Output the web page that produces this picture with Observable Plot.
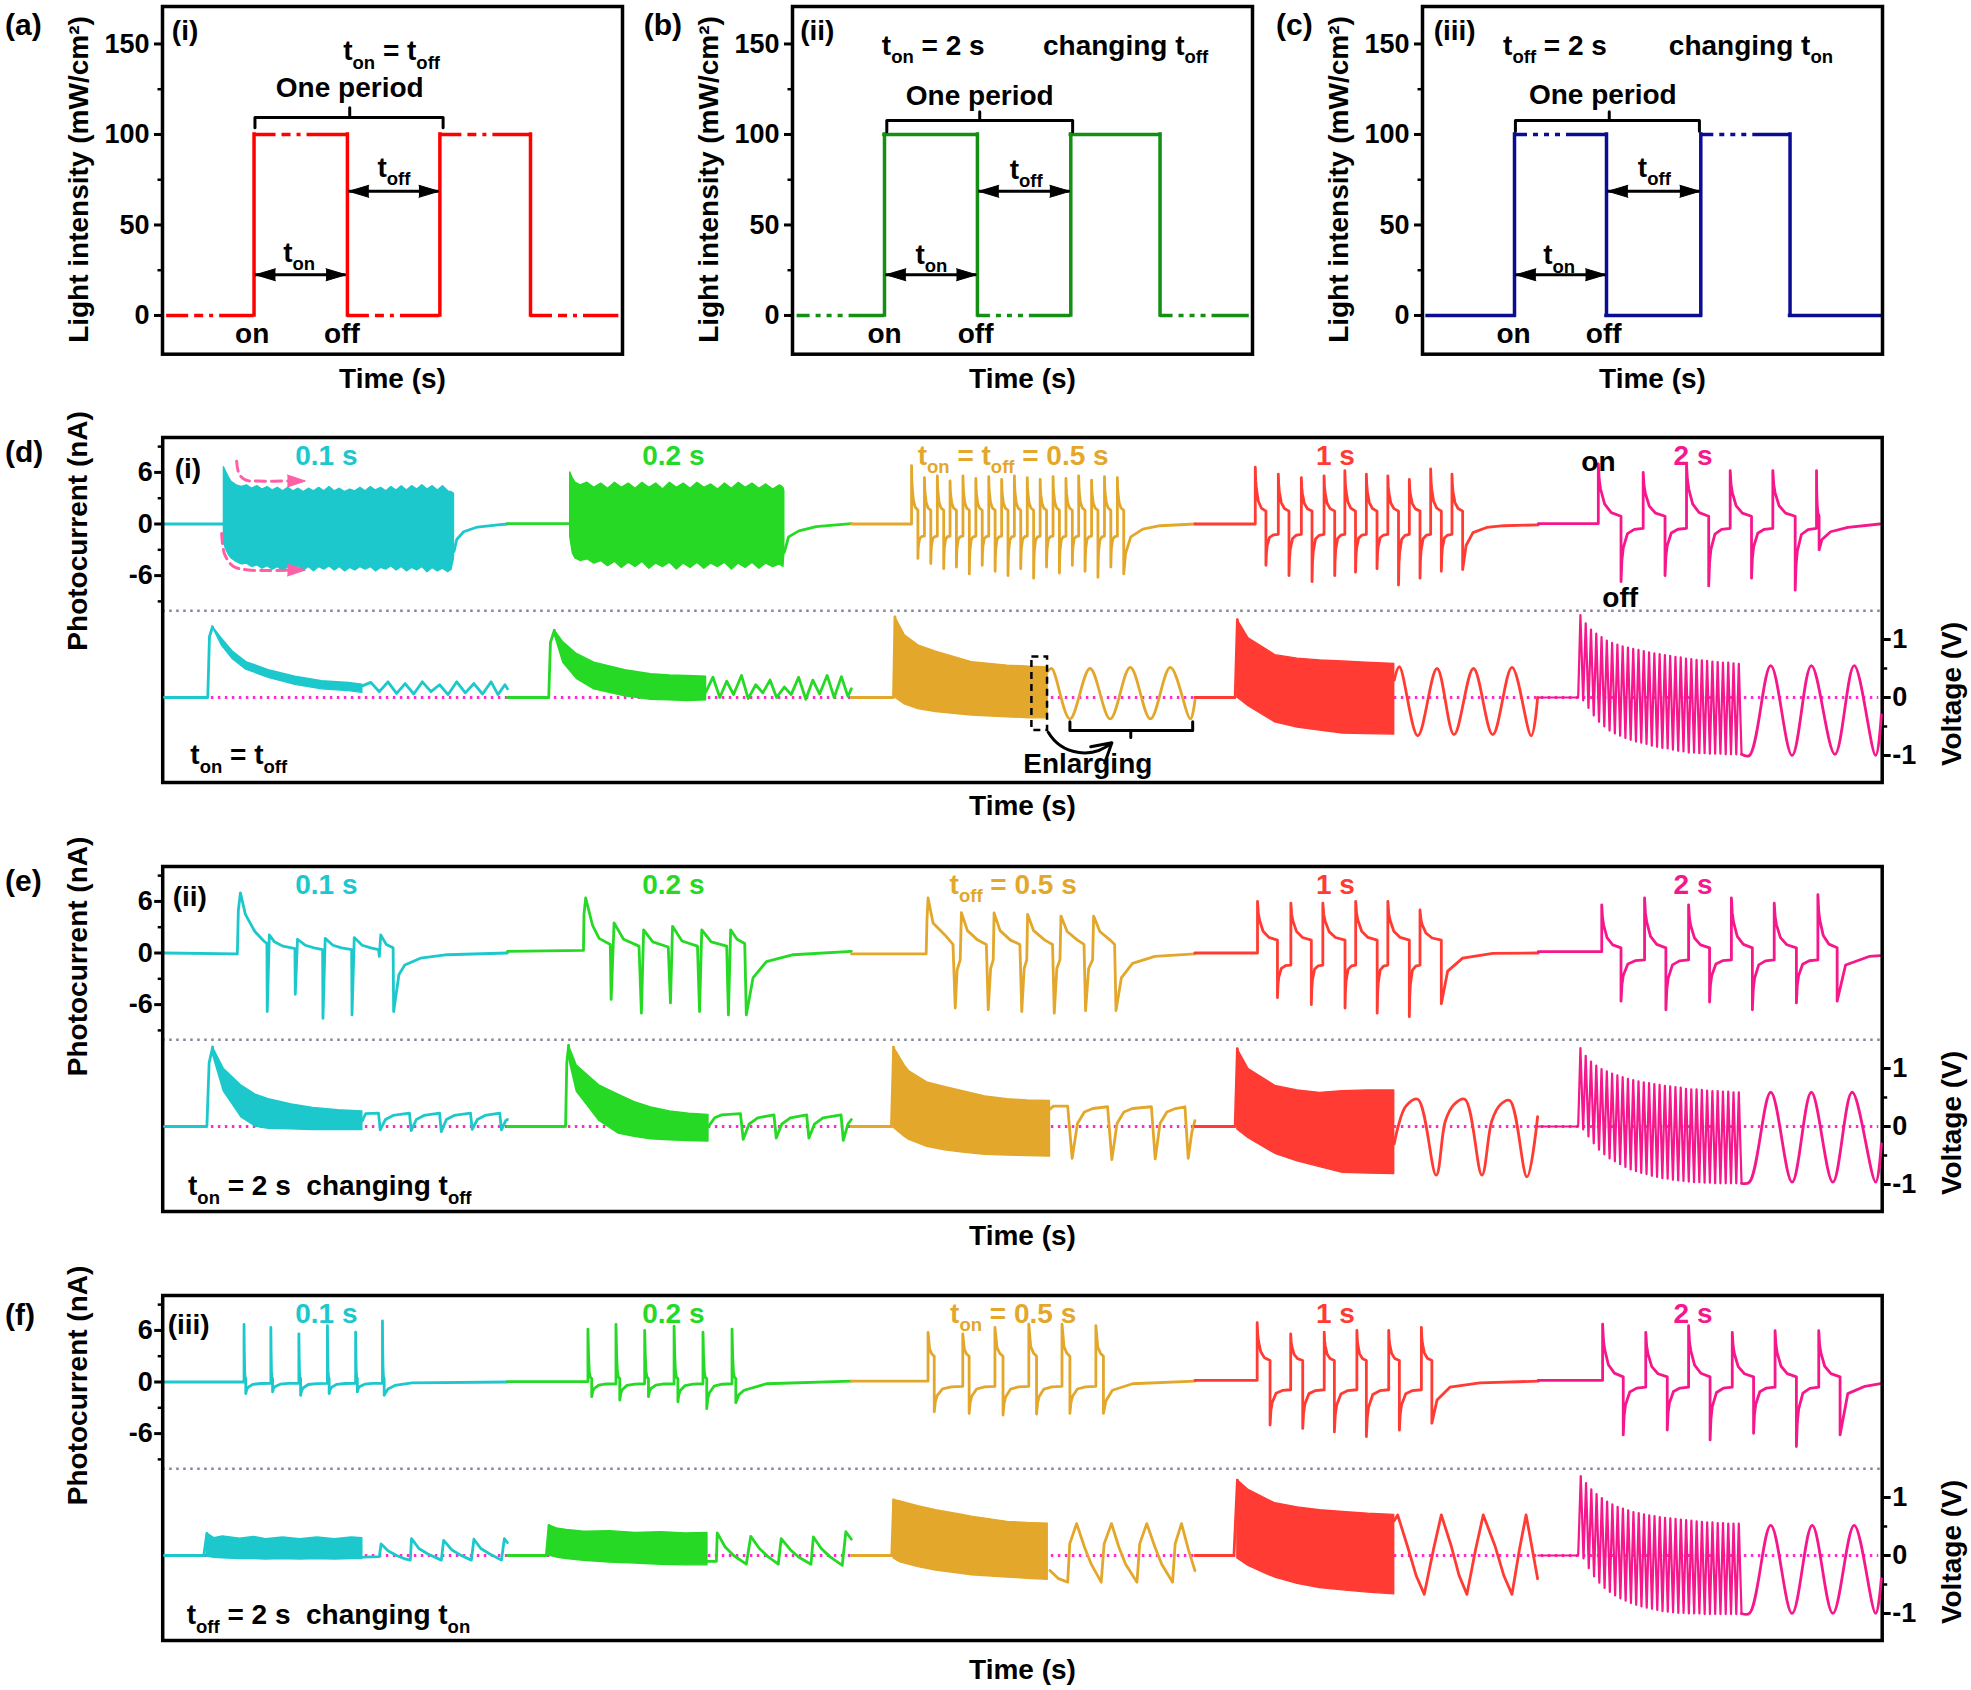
<!DOCTYPE html>
<html><head><meta charset="utf-8">
<script src="https://cdn.jsdelivr.net/npm/d3@7"></script>
<script src="https://cdn.jsdelivr.net/npm/@observablehq/plot@0.6"></script>
<style>
html,body{margin:0;padding:0;background:#fff;}
body{width:1971px;height:1690px;position:relative;overflow:hidden;}
</style></head><body>
<script>
// ================= DATA =================
const COLORS = {cyan:"#1cc8cc", green:"#25d925", orange:"#e3a72b", red:"#ff3b33", pink:"#f5178b"};
const segColors = [COLORS.cyan, COLORS.green, COLORS.orange, COLORS.red, COLORS.pink];
const segLabelX = [9.52, 29.7, 49.46, 68.2, 89.0];
const segLabelsD = ["0.1 s", "0.2 s", "t_{on} = t_{off} = 0.5 s", "1 s", "2 s"];
const segLabelsE = ["0.1 s", "0.2 s", "t_{off} = 0.5 s", "1 s", "2 s"];
const segLabelsF = ["0.1 s", "0.2 s", "t_{on} = 0.5 s", "1 s", "2 s"];

// ---- top panels (light intensity square waves) ----
const lightLevels = [0, 100];
const intensityTicks = [0, 50, 100, 150];
const intensityMinor = [25, 75, 125];
const edgesA = [0.09, 1.99, 4.02, 6.03, 8.0, 9.92];
const edgesB = [0.1, 2.0, 4.02, 6.05, 7.99, 9.93];
const edgesC = [0.11, 2.0, 4.0, 6.05, 7.99, 9.96];

// ---- bottom panels ticks ----
const currentTicks = [-6, 0, 6];
const currentMinor = [-9, -3, 3, 9];
const voltageTicks = [-1, 0, 1];
const voltageMinor = [-0.5, 0.5];
const separatorLevel = -10.09;

// shape templates read from the spikes: [fraction of interval, fraction of amplitude]
const decayShape = [[0.04,0.7],[0.1,0.52],[0.28,0.23],[0.57,0.07]];
const recovShape = [[0.04,0.6],[0.1,0.37],[0.29,0.1],[0.6,0.02]];
const shoulderShape = [[0.25,0.3],[0.6,0.1]];
const narrowShape = [[0.15,0.5],[0.35,0.15],[0.6,0.03]];

// ================= panel (d) =================
const dI_cyanPre = [[0.1,0],[3.56,0]];
const dI_cyanBand = [[3.56,6.6,-2.2],[3.7,6.0,-3.0],[3.85,5.4,-3.6],[4.0,4.9,-4.0],[4.3,4.5,-4.4],[4.6,4.3,-4.7],[4.9,4.5,-4.6],[5.2,4.1,-5.0],[5.5,4.4,-4.8],[5.8,4.0,-5.2],[6.1,4.3,-4.9],[6.4,3.9,-5.3],[6.7,4.2,-5.0],[7.0,3.8,-5.5],[7.3,4.2,-5.0],[7.6,3.8,-5.3],[7.9,4.1,-4.9],[8.2,3.7,-5.4],[8.5,4.1,-5.0],[8.8,3.8,-5.5],[9.1,4.2,-5.0],[9.4,3.8,-5.3],[9.7,4.3,-4.9],[10.0,3.8,-5.4],[10.3,4.1,-5.0],[10.6,3.7,-5.5],[10.9,4.0,-5.1],[11.2,3.8,-5.4],[11.5,4.2,-5.0],[11.8,3.8,-5.3],[12.1,4.3,-5.0],[12.4,3.9,-5.5],[12.7,4.2,-5.1],[13.0,3.8,-5.3],[13.3,4.3,-4.9],[13.6,3.9,-5.4],[13.9,4.4,-5.0],[14.2,3.9,-5.5],[14.5,4.4,-5.1],[14.8,4.0,-5.4],[15.1,4.5,-5.0],[15.4,4.0,-5.6],[15.7,4.4,-5.1],[16.0,3.9,-5.5],[16.3,4.4,-5.2],[16.6,3.8,-5.6],[16.8,3.7,-5.3],[16.94,3.5,-4.0]];
const dI_cyanPost = [[16.94,-3.2],[17.1,-1.8],[17.5,-0.9],[18.3,-0.35],[19.5,-0.1],[20.05,0]];
const dI_greenPre = [[20.05,0.05],[23.7,0.05]];
const dI_greenBand = [[23.7,6.0,-1.5],[23.85,5.3,-3.4],[24.0,4.8,-4.0],[24.3,4.5,-4.3],[24.7,4.8,-4.1],[25.1,4.2,-4.6],[25.5,4.7,-4.3],[25.9,4.1,-4.9],[26.3,4.8,-4.4],[26.7,4.2,-5.1],[27.1,4.7,-4.5],[27.5,4.1,-5.0],[27.9,4.8,-4.4],[28.3,4.2,-5.2],[28.7,4.7,-4.6],[29.1,4.0,-5.0],[29.5,4.8,-4.5],[29.9,4.2,-5.3],[30.3,4.7,-4.6],[30.7,4.1,-5.1],[31.1,4.8,-4.5],[31.5,4.2,-5.2],[31.9,4.6,-4.6],[32.3,4.0,-5.0],[32.7,4.7,-4.5],[33.1,4.1,-5.3],[33.5,4.8,-4.6],[33.9,4.2,-5.1],[34.3,4.7,-4.5],[34.7,4.1,-5.2],[35.1,4.6,-4.6],[35.5,4.0,-5.0],[35.9,4.5,-4.7],[36.1,4.2,-5.0],[36.15,3.8,-3.6]];
const dI_greenPost = [[36.15,-3.3],[36.4,-1.5],[37.0,-0.8],[38.0,-0.3],[40.05,0.05]];
const dI_orange = {start:[40.05,0],
  on:[43.55,44.30,45.05,45.79,46.54,47.29,48.04,48.79,49.53,50.28,51.03,51.78,52.53,53.27,54.02,54.77,55.52],
  off:[43.92,44.67,45.42,46.16,46.91,47.66,48.41,49.16,49.90,50.65,51.40,52.15,52.90,53.64,54.39,55.14,55.89],
  peak:[6.8,5.4,5.6,5.0,5.6,5.3,5.5,5.2,5.6,5.4,5.2,5.5,5.3,5.6,5.1,5.5,5.4],
  trough:[-4.0,-4.6,-5.2,-5.0,-5.8,-4.8,-5.5,-6.0,-5.2,-6.3,-5.0,-5.7,-4.8,-5.5,-6.2,-5.0,-5.8],
  plat:1.6, rec:-1.4, decay:decayShape, recov:recovShape,
  tail:[[56.0,-3.4],[56.3,-1.5],[57.0,-0.6],[58.0,-0.2],[60.03,0.0]]};
const dI_red = {start:[60.03,0],
  on:[63.54,64.88,66.22,67.54,68.75,70.0,71.25,72.5,73.74,74.98],
  off:[64.16,65.5,66.84,68.16,69.37,70.62,71.87,73.12,74.36,75.6],
  peak:[6.6,5.8,5.4,5.6,6.2,5.8,5.6,5.2,6.4,5.8],
  trough:[-4.8,-6.0,-6.7,-6.0,-5.6,-5.2,-7.1,-6.3,-5.5,-5.3],
  plat:1.5, rec:-1.2, decay:decayShape, recov:recovShape,
  tail:[[75.8,-2.5],[76.2,-1.0],[77.0,-0.4],[78.0,-0.2],[80.0,-0.1]]};
const dI_pink = {start:[80.0,0.05],
  on:[83.49,86.1,88.62,91.16,93.64,96.18],
  off:[84.81,87.37,89.91,92.4,94.94,96.33],
  peak:[7.0,6.0,7.0,6.2,6.2,6.2],
  trough:[-6.7,-6.0,-7.2,-6.3,-7.7,-3.0],
  plat:0.9, rec:-0.5, decay:decayShape, recov:recovShape,
  tail:[[96.5,-1.8],[97.0,-0.9],[98.0,-0.4],[99.86,0.0]]};
const dPinkArrowUp = [[4.3,7.3],[4.45,5.8],[4.85,5.1],[5.5,5.0],[7.6,5.0]];
const dPinkArrowLow = [[3.43,-1.1],[3.6,-3.5],[4.1,-4.9],[5.0,-5.35],[7.6,-5.35]];
const dPinkArrowHeads = [{x:8.3,y:5.0},{x:8.3,y:-5.35}];
const dOnOffText = [{x:83.5,y:7.25,t:"on"},{x:84.76,y:-8.57,t:"off"}];

const dV_cyanPre = [[0.1,0],[2.62,0],[2.72,1.05],[2.9,1.22]];
const dV_cyanBand = [[2.9,1.22,1.22],[3.43,1.02,0.9],[4.08,0.79,0.66],[4.86,0.61,0.48],[6.16,0.47,0.34],[7.71,0.36,0.22],[9.27,0.28,0.14],[10.83,0.25,0.11],[11.61,0.22,0.08]];
const dV_cyanEnl = [[11.61,0.2],[12.1,0.26],[12.6,0.1],[13.1,0.27],[13.6,0.07],[14.1,0.24],[14.6,0.06],[15.1,0.27],[15.6,0.1],[16.1,0.22],[16.6,0.05],[17.1,0.27],[17.6,0.08],[18.1,0.24],[18.6,0.06],[19.1,0.27],[19.5,0.05],[19.9,0.22],[20.05,0.15]];
const dV_greenPre = [[20.05,0],[22.45,0],[22.55,0.95],[22.78,1.16]];
const dV_greenBand = [[22.78,1.16,1.1],[23.3,0.95,0.6],[24.08,0.75,0.32],[25.1,0.6,0.14],[26.9,0.47,0.02],[28.4,0.4,-0.04],[29.5,0.38,-0.05],[30.5,0.37,-0.06],[31.6,0.36,-0.05]];
const dV_greenEnl = [[31.6,0.1],[32.0,0.35],[32.4,0.0],[32.8,0.28],[33.2,0.05],[33.66,0.38],[34.05,-0.02],[34.49,0.22],[34.9,0.08],[35.32,0.3],[35.7,0.0],[36.15,0.18],[36.55,0.05],[36.98,0.35],[37.4,-0.03],[37.81,0.3],[38.2,0.06],[38.64,0.38],[39.05,0.0],[39.47,0.36],[39.85,0.02],[40.05,0.15]];
const dV_orangePre = [[40.05,0],[42.5,0],[42.59,1.39]];
const dV_orangeBand = [[42.59,1.39,0.0],[43.16,1.07,-0.12],[43.94,0.9,-0.2],[44.97,0.79,-0.25],[47.05,0.61,-0.31],[49.13,0.55,-0.34],[50.43,0.53,-0.36],[51.47,0.52,-0.36]];
const dV_orangeEnl = [[51.47,0.45],[51.7,0.5],[52.76,-0.37],[53.93,0.5],[55.1,-0.37],[56.27,0.52],[57.44,-0.37],[58.6,0.52],[59.77,-0.37],[60.03,-0.05]];
const dV_redPre = [[60.03,0],[62.37,0],[62.5,1.34]];
const dV_redBand = [[62.5,1.34,0.0],[63.15,1.02,-0.15],[64.7,0.73,-0.43],[66.0,0.67,-0.52],[67.3,0.64,-0.57],[68.64,0.62,-0.62],[70.0,0.6,-0.63],[71.62,0.58,-0.64]];
const dV_redEnl = [[71.62,0.3],[71.92,0.53],[72.99,-0.66],[74.11,0.5],[75.1,-0.64],[76.23,0.5],[77.35,-0.64],[78.47,0.52],[79.59,-0.66],[79.96,0.0]];
const dV_pinkPre = [[80.0,0],[82.32,0],[82.45,1.42]];
const dV_pinkTeeth = {x0:82.45, x1:91.66, w:0.16,
  up:[1.42,1.28,1.17,1.10,1.04,0.98,0.94,0.91,0.88,0.86,0.84,0.82,0.80,0.78,0.76,0.75,0.73,0.72,0.70,0.69,0.67,0.66,0.65,0.64,0.63,0.62,0.61,0.60,0.60,0.59,0.58],
  lo:[-0.05,-0.18,-0.31,-0.42,-0.50,-0.57,-0.62,-0.66,-0.70,-0.73,-0.76,-0.78,-0.80,-0.83,-0.85,-0.87,-0.88,-0.90,-0.92,-0.93,-0.95,-0.95,-0.96,-0.96,-0.97,-0.97,-0.97,-0.98,-0.98,-0.98,-0.98]};
const dV_pinkEnl = [[91.82,-0.98],[92.28,-1.0],[93.52,0.55],[94.76,-1.0],[95.88,0.55],[97.25,-0.98],[98.37,0.55],[99.62,-1.0],[99.95,-0.3]];
const enlargeBox = {x1:50.55, x2:51.46, y1:-0.57, y2:0.7};
const enlargeBracket = {x1:52.76, x2:59.9, xm:56.3, y:-0.57, yEnd:-0.42, yTick:-0.69};
const enlargeArrow = {x1:51.5, y1:-0.6, x2:55.2, y2:-0.78};
const enlargeText = {x:53.8, y:-1.14, t:"Enlarging"};

// ================= panel (e) =================
const eI_cyan = [[0.1,0],[4.34,-0.1],[4.4,5.0],[4.52,7.0],[4.81,4.5],[5.36,2.5],[5.88,1.4],[6.06,1.1],[6.08,-6.8],[6.2,2.1],[6.5,1.3],[7.0,0.8],[7.69,0.5],[7.71,-4.8],[7.84,1.6],[8.3,0.9],[8.8,0.6],[9.3,0.4],[9.32,-7.6],[9.45,1.7],[9.9,0.9],[10.4,0.6],[10.99,0.4],[11.01,-7.2],[11.14,1.8],[11.6,0.9],[12.1,0.6],[12.55,0.4],[12.6,-0.4],[12.68,2.1],[13.0,1.0],[13.4,0.6],[13.43,-6.8],[13.74,-2.5],[14.08,-1.4],[14.99,-0.6],[16.55,-0.2],[20.05,0.0]];
const eI_green = [[20.05,0.2],[24.47,0.3],[24.5,4.5],[24.6,6.4],[25.0,3.2],[25.38,1.7],[26.03,1.0],[26.08,-5.4],[26.25,3.5],[26.8,1.6],[27.7,0.8],[27.84,-7.0],[27.97,2.7],[28.5,1.3],[29.4,0.7],[29.53,-5.8],[29.65,3.1],[30.2,1.4],[31.1,0.8],[31.22,-6.8],[31.35,2.7],[31.9,1.3],[32.8,0.8],[32.9,-7.2],[33.03,2.7],[33.4,1.6],[33.85,1.1],[33.94,-7.2],[34.33,-2.9],[35.11,-1.0],[36.67,-0.2],[40.05,0.2]];
const eI_orange = [[40.05,-0.1],[44.4,-0.1],[44.45,4.0],[44.51,6.4],[44.8,3.5],[45.49,2.1],[45.96,1.0],[46.09,-6.4],[46.2,-2.0],[46.38,-0.8],[46.45,4.7],[46.8,2.6],[47.4,1.5],[47.9,1.0],[48.01,-6.6],[48.15,-1.8],[48.3,-0.8],[48.35,4.65],[48.7,2.6],[49.3,1.5],[49.85,1.0],[49.96,-6.8],[50.1,-1.8],[50.25,-0.8],[50.3,4.5],[50.65,2.6],[51.3,1.5],[51.75,1.0],[51.85,-7.0],[52.0,-1.8],[52.18,-0.8],[52.24,4.3],[52.6,2.5],[53.2,1.5],[53.58,1.0],[53.67,-6.7],[53.85,-1.8],[54.08,-0.8],[54.14,4.3],[54.5,2.5],[55.1,1.5],[55.36,1.0],[55.44,-6.7],[55.75,-2.9],[56.4,-1.2],[57.7,-0.4],[60.03,-0.1]];
const eI_red = {start:[60.03,0],
  on:[63.67,65.61,67.47,69.38,71.25,73.12], off:[64.83,66.8,68.76,70.63,72.5,74.36],
  peak:[6.0,5.8,5.8,6.0,6.0,5.0], trough:[-5.2,-6.0,-6.4,-7.0,-7.4,-5.9],
  plat:1.5, rec:-1.4, decay:decayShape, recov:recovShape,
  tail:[[74.73,-2.1],[75.6,-0.6],[77.35,-0.05],[80.0,0]]};
const eI_pink = {start:[80.0,0.15],
  on:[83.69,86.18,88.74,91.23,93.72,96.26], off:[84.81,87.42,89.96,92.45,95.01,97.38],
  peak:[5.6,6.4,5.6,6.4,5.8,6.8], trough:[-5.6,-6.6,-5.7,-6.6,-5.8,-5.6],
  plat:0.6, rec:-0.8, decay:decayShape, recov:recovShape,
  tail:[[97.87,-1.4],[99.24,-0.4],[99.9,-0.3]]};

const eV_cyanPre = [[0.1,0],[2.57,0],[2.7,1.1],[2.91,1.37]];
const eV_cyanBand = [[2.91,1.37,1.25],[3.56,0.99,0.6],[4.6,0.7,0.15],[5.4,0.55,0.0],[6.16,0.47,-0.04],[7.5,0.38,-0.05],[8.75,0.32,-0.06],[10.2,0.28,-0.06],[11.61,0.26,-0.06]];
const eV_cyanEnl = [[11.61,0.1],[11.8,0.22],[12.55,0.23],[12.65,-0.06],[12.95,0.12],[13.4,0.19],[14.35,0.23],[14.45,-0.07],[14.75,0.12],[15.2,0.19],[16.1,0.23],[16.2,-0.09],[16.5,0.12],[16.95,0.19],[17.9,0.23],[18.0,-0.05],[18.3,0.12],[18.75,0.19],[19.6,0.23],[19.7,-0.06],[19.95,0.1],[20.05,0.12]];
const eV_greenPre = [[20.05,0],[23.43,0],[23.5,1.1],[23.61,1.4]];
const eV_greenBand = [[23.61,1.4,1.2],[24.08,1.05,0.6],[25.38,0.71,0.1],[26.5,0.55,-0.12],[27.45,0.42,-0.18],[28.4,0.33,-0.22],[29.5,0.26,-0.24],[30.6,0.22,-0.25],[31.74,0.2,-0.26]];
const eV_greenEnl = [[31.74,0.0],[32.1,0.15],[32.51,0.2],[33.6,0.22],[33.76,-0.22],[34.1,0.04],[34.6,0.15],[35.55,0.2],[35.68,-0.2],[36.0,0.04],[36.5,0.15],[37.45,0.2],[37.58,-0.2],[37.9,0.04],[38.4,0.15],[39.45,0.2],[39.58,-0.24],[39.85,0.04],[40.05,0.12]];
const eV_orangePre = [[40.05,0],[42.38,0],[42.51,1.37]];
const eV_orangeBand = [[42.51,1.37,-0.02],[43.16,1.05,-0.18],[43.42,0.95,-0.23],[44.46,0.76,-0.35],[45.49,0.68,-0.41],[46.53,0.61,-0.45],[47.83,0.52,-0.49],[49.13,0.47,-0.5],[50.3,0.45,-0.51],[51.6,0.44,-0.52]];
const eV_orangeEnl = [[51.6,0.3],[51.8,0.35],[52.63,0.35],[52.89,-0.55],[53.2,0.05],[53.6,0.25],[54.1,0.31],[54.95,0.34],[55.2,-0.57],[55.5,0.05],[55.9,0.25],[56.4,0.31],[57.5,0.34],[57.72,-0.56],[58.0,0.05],[58.4,0.25],[58.9,0.31],[59.45,0.34],[59.64,-0.55],[59.85,-0.1],[60.03,0.1]];
const eV_redPre = [[60.03,0],[62.37,0],[62.5,1.34]];
const eV_redBand = [[62.5,1.34,-0.05],[63.15,0.99,-0.2],[64.7,0.7,-0.47],[66.0,0.62,-0.6],[67.3,0.58,-0.7],[68.64,0.61,-0.8],[70.1,0.62,-0.81],[71.62,0.62,-0.82]];
const eV_redEnl = [[71.62,-0.3],[71.85,0.0],[72.3,0.35],[72.99,0.47],[74.06,-0.84],[74.6,0.1],[75.1,0.38],[75.73,0.47],[76.72,-0.84],[77.3,0.1],[77.8,0.38],[78.34,0.45],[79.34,-0.87],[79.96,0.17]];
const eV_pinkPre = [[80.0,0],[82.32,0],[82.45,1.35]];
const eV_pinkTeeth = {x0:82.45, x1:91.66, w:0.16,
  up:[1.35,1.22,1.12,1.05,0.99,0.95,0.91,0.88,0.85,0.82,0.80,0.78,0.76,0.75,0.73,0.72,0.70,0.69,0.68,0.67,0.65,0.64,0.64,0.63,0.62,0.61,0.61,0.60,0.60,0.59,0.59],
  lo:[-0.05,-0.17,-0.29,-0.40,-0.48,-0.55,-0.60,-0.65,-0.70,-0.74,-0.77,-0.80,-0.82,-0.85,-0.87,-0.89,-0.90,-0.92,-0.93,-0.94,-0.95,-0.96,-0.96,-0.97,-0.97,-0.98,-0.98,-0.98,-0.98,-0.98,-0.98]};
const eV_pinkEnl = [[91.82,-0.98],[92.28,-0.96],[93.52,0.59],[94.76,-0.96],[95.88,0.59],[97.13,-0.96],[98.25,0.59],[99.62,-0.96],[99.95,-0.3]];

// ================= panel (f) =================
const fI_cyan = {start:[0.1,0],
  on:[4.73,6.29,7.92,9.58,11.22,12.78], off:[4.83,6.39,8.02,9.68,11.32,12.88],
  peak:[6.7,6.35,5.6,6.55,5.8,7.1], trough:[-1.35,-1.15,-1.55,-1.35,-1.15,-1.55],
  plat:0.4, rec:-0.15, decay:narrowShape, recov:recovShape,
  tail:[[13.1,-0.8],[13.5,-0.4],[14.5,-0.1],[20.05,0]]};
const fI_green = {start:[20.05,0.05],
  on:[24.73,26.36,28.03,29.74,31.42,33.11], off:[24.95,26.58,28.25,29.96,31.64,33.33],
  peak:[6.15,6.7,6.0,6.5,5.8,6.15], trough:[-1.7,-2.1,-1.7,-2.3,-3.1,-2.4],
  plat:0.4, rec:-0.2, decay:narrowShape, recov:recovShape,
  tail:[[33.5,-1.5],[33.81,-0.96],[35.11,-0.2],[40.05,0.1]]};
const fI_orange = {start:[40.05,0.1],
  on:[44.51,46.53,48.4,50.37,52.3,54.27], off:[44.87,46.9,48.87,50.82,52.76,54.71],
  peak:[5.77,5.58,6.35,6.73,6.73,6.54], trough:[-3.46,-3.65,-3.85,-3.73,-3.65,-3.65],
  plat:3.0, rec:-0.5, decay:shoulderShape, recov:recovShape,
  tail:[[54.85,-2.2],[55.23,-0.96],[56.4,-0.2],[60.03,0.1]]};
const fI_red = {start:[60.03,0.2],
  on:[63.65,65.6,67.55,69.45,71.3,73.2], off:[64.4,66.3,68.14,70.0,71.92,73.81],
  peak:[6.9,5.6,5.8,6.0,6.0,6.35], trough:[-5.0,-5.4,-5.8,-6.35,-5.6,-4.8],
  plat:2.5, rec:-0.9, decay:decayShape, recov:recovShape,
  tail:[[74.11,-2.1],[74.86,-0.6],[76.6,-0.1],[80.0,0.1]]};
const fI_pink = {start:[80.0,0.2],
  on:[83.74,86.25,88.74,91.28,93.77,96.31], off:[84.94,87.5,89.99,92.52,95.01,97.55],
  peak:[6.73,5.77,6.54,5.77,5.96,5.96], trough:[-6.15,-5.58,-6.73,-5.96,-7.5,-6.15],
  plat:0.6, rec:-0.6, decay:decayShape, recov:recovShape,
  tail:[[98.0,-1.35],[99.0,-0.5],[99.9,-0.2]]};

const fV_cyanPre = [[0.1,0],[2.39,0],[2.57,0.38]];
const fV_cyanBand = [[2.57,0.38,-0.02],[3.0,0.3,-0.04],[3.5,0.33,-0.05],[4.5,0.29,-0.06],[5.3,0.32,-0.06],[6.0,0.28,-0.07],[7.0,0.31,-0.06],[8.0,0.28,-0.07],[9.0,0.31,-0.06],[10.0,0.28,-0.07],[11.0,0.31,-0.06],[11.61,0.3,-0.06]];
const fV_cyanEnl = [[11.66,-0.03],[12.6,-0.02],[12.7,0.2],[13.1,0.08],[13.6,0.0],[14.1,-0.06],[14.4,-0.08],[14.47,0.29],[14.9,0.12],[15.4,0.03],[16.2,-0.08],[16.34,0.26],[16.8,0.1],[17.3,0.01],[17.95,-0.08],[18.1,0.28],[18.5,0.12],[19.0,0.03],[19.7,-0.08],[19.87,0.29],[20.05,0.22]];
const fV_greenPre = [[20.05,0],[22.31,0],[22.47,0.52]];
const fV_greenBand = [[22.47,0.52,0.0],[23.0,0.46,-0.04],[23.5,0.44,-0.06],[24.5,0.41,-0.09],[26,0.42,-0.12],[27.5,0.39,-0.14],[29,0.4,-0.16],[30.4,0.38,-0.17],[31.68,0.39,-0.17]];
const fV_greenEnl = [[31.68,-0.1],[32.2,-0.1],[32.25,0.39],[32.7,0.15],[33.2,0.0],[33.94,-0.15],[34.2,0.33],[34.7,0.12],[35.2,-0.02],[35.8,-0.15],[35.97,0.29],[36.5,0.1],[37.0,-0.03],[37.7,-0.15],[37.84,0.32],[38.3,0.12],[38.8,-0.02],[39.52,-0.17],[39.73,0.41],[40.05,0.28]];
const fV_orangePre = [[40.05,0],[42.4,0],[42.51,0.96]];
const fV_orangeBand = [[42.51,0.96,-0.05],[42.9,0.93,-0.12],[43.94,0.85,-0.2],[44.97,0.78,-0.26],[46.53,0.7,-0.32],[47.05,0.67,-0.34],[49.13,0.58,-0.38],[50.3,0.56,-0.4],[51.47,0.55,-0.42]];
const fV_orangeEnl = [[51.6,-0.26],[52.1,-0.4],[52.63,-0.46],[52.75,0.2],[53.15,0.55],[53.6,0.15],[54.0,-0.15],[54.58,-0.46],[54.75,0.2],[55.18,0.55],[55.6,0.15],[56.0,-0.15],[56.66,-0.46],[56.82,0.2],[57.23,0.55],[57.7,0.15],[58.1,-0.15],[58.73,-0.46],[58.88,0.2],[59.25,0.55],[59.65,0.1],[60.03,-0.26]];
const fV_redPre = [[60.03,0],[62.3,0],[62.5,1.3]];
const fV_redBand = [[62.5,1.3,-0.05],[63.15,1.13,-0.18],[64.2,0.97,-0.32],[64.7,0.9,-0.38],[66.0,0.83,-0.49],[67.3,0.78,-0.56],[68.64,0.75,-0.6],[70.1,0.72,-0.64],[71.62,0.7,-0.67]];
const fV_redEnl = [[71.62,0.6],[71.82,0.7],[72.4,0.15],[72.9,-0.35],[73.37,-0.67],[73.9,0.1],[74.36,0.7],[74.95,0.15],[75.4,-0.35],[75.85,-0.67],[76.35,0.1],[76.8,0.7],[77.5,0.15],[78.0,-0.35],[78.47,-0.67],[78.9,0.1],[79.29,0.7],[79.96,-0.4]];
const fV_pinkPre = [[80.0,0],[82.32,0],[82.47,1.37]];
const fV_pinkTeeth = {x0:82.47, x1:91.66, w:0.16,
  up:[1.37,1.25,1.14,1.06,0.99,0.93,0.88,0.84,0.81,0.78,0.75,0.73,0.71,0.69,0.68,0.66,0.65,0.64,0.63,0.62,0.61,0.60,0.59,0.58,0.57,0.57,0.56,0.56,0.55,0.55,0.55],
  lo:[-0.05,-0.22,-0.36,-0.47,-0.56,-0.63,-0.69,-0.74,-0.78,-0.82,-0.85,-0.88,-0.90,-0.92,-0.94,-0.96,-0.97,-0.98,-0.99,-0.99,-1.0,-1.0,-1.0,-1.01,-1.01,-1.01,-1.01,-1.01,-1.01,-1.01,-1.01]};
const fV_pinkEnl = [[91.82,-1.0],[92.28,-1.0],[93.52,0.52],[94.76,-1.0],[95.93,0.52],[97.13,-1.0],[98.37,0.52],[99.62,-1.0],[99.95,-0.4]];

// ================= RENDERING =================
const SVGNS = "http://www.w3.org/2000/svg";
const FONT = "'Liberation Sans', Arial, Helvetica, sans-serif";
const baseStyle = {background: "transparent", fontFamily: FONT, fontWeight: "bold", fontSize: "28px", overflow: "visible", color: "black"};
const TRACE_W = 2.8;

function subscripts(root) {
  root.querySelectorAll("text").forEach(el => {
    const s = el.textContent;
    if (!s.includes("_{")) return;
    const fs = parseFloat(el.getAttribute("font-size") || (el.parentNode && el.parentNode.getAttribute("font-size"))) || 28;
    while (el.firstChild) el.removeChild(el.firstChild);
    const shift = fs * 0.3;
    let shifted = false;
    const add = (txt, sub) => {
      const ts = document.createElementNS(SVGNS, "tspan");
      ts.textContent = txt;
      if (sub) { ts.setAttribute("font-size", (fs * 0.66).toFixed(1)); ts.setAttribute("dy", shift.toFixed(1)); shifted = true; }
      else if (shifted) { ts.setAttribute("dy", (-shift).toFixed(1)); shifted = false; }
      el.appendChild(ts);
    };
    const re = /_\{([^}]*)\}/g;
    let last = 0, m;
    while ((m = re.exec(s))) {
      if (m.index > last) add(s.slice(last, m.index), false);
      add(m[1], true);
      last = re.lastIndex;
    }
    if (last < s.length) add(s.slice(last), false);
  });
}
function place(node, left, top) {
  node.style.position = "absolute";
  node.style.left = left + "px";
  node.style.top = top + "px";
  node.style.maxWidth = "none";
  document.body.appendChild(node);
  subscripts(node);
}

function buildPulses(p) {
  const pts = [p.start];
  let level = p.start[1];
  const n = p.on.length;
  for (let i = 0; i < n; i++) {
    const on = p.on[i], off = p.off[i], pk = p.peak[i], tr = p.trough[i];
    pts.push([on, level], [on, pk]);
    for (const [f, v] of p.decay) pts.push([on + f * (off - on), p.plat + v * (pk - p.plat)]);
    pts.push([off, p.plat], [off, tr]);
    if (i < n - 1) {
      const nx = p.on[i + 1];
      for (const [f, v] of p.recov) pts.push([off + f * (nx - off), p.rec + v * (tr - p.rec)]);
      level = p.rec;
    }
  }
  return pts.concat(p.tail);
}
function teethPts(t) {
  const n = t.up.length, step = (t.x1 - t.x0) / (n - 1), pts = [];
  for (let i = 0; i < n; i++) { const x = t.x0 + i * step; pts.push([x, t.up[i]], [x + t.w, t.lo[i]]); }
  return pts;
}
const L = (pts, c, extra = {}) => Plot.line(pts, {x: d => d[0], y: d => d[1], stroke: c, strokeWidth: TRACE_W, strokeLinejoin: "round", ...extra});
const B = (band, c) => Plot.areaY(band, {x: d => d[0], y1: d => d[2], y2: d => d[1], fill: c, stroke: c, strokeWidth: 1.4});
const spike = (data, rot, extra = {}) => Plot.vector(data, {x: "x", y: "y", rotate: rot, length: 20, r: 6, shape: "spike", anchor: "end", fill: "black", stroke: "black", strokeWidth: 1, ...extra});

// ---------- top panels ----------
const TOP = {width: 640, height: 404, mL: 162, mR: 18, mT: 6, mB: 50.3, yDomain: [-21.4, 170.7], xDomain: [0, 10]};
function dblArrow(a) {
  return [
    Plot.ruleY([a], {x1: "x1", x2: "x2", y: "y", stroke: "black", strokeWidth: 3}),
    spike([{x: a.x1, y: a.y}], -90),
    spike([{x: a.x2, y: a.y}], 90)
  ];
}
function topPanel(c) {
  const e = c.edges;
  const segs = [[e[0], e[1], 0, c.dotLow], [e[1], e[2], 100, c.dotHigh], [e[2], e[3], 0, c.dotLow], [e[3], e[4], 100, c.dotHigh], [e[4], e[5], 0, c.dotLow]]
    .map(([x1, x2, y, dot]) => ({x1, x2, y, dot}));
  const b = c.bracket;
  const bracket = [[b.x1, b.yEnd], [b.x1, b.y], [b.xm, b.y], [b.xm, b.yTop], [b.xm, b.y], [b.x2, b.y], [b.x2, b.yEnd]];
  const sw = 3.5;
  return Plot.plot({
    width: TOP.width, height: TOP.height, marginLeft: TOP.mL, marginRight: TOP.mR, marginTop: TOP.mT, marginBottom: TOP.mB,
    x: {domain: TOP.xDomain, axis: null}, y: {domain: TOP.yDomain},
    style: baseStyle,
    marks: [
      Plot.ruleY(segs.filter(s => !s.dot), {x1: "x1", x2: "x2", y: "y", stroke: c.color, strokeWidth: sw, strokeLinecap: "square"}),
      Plot.ruleY(segs.filter(s => s.dot), {x1: "x1", x2: "x2", y: "y", stroke: c.color, strokeWidth: sw, strokeDasharray: c.dash}),
      Plot.ruleX(e.slice(1, 5), {x: d => d, y1: lightLevels[0], y2: lightLevels[1], stroke: c.color, strokeWidth: sw, strokeLinecap: "square"}),
      Plot.line(bracket, {x: d => d[0], y: d => d[1], stroke: "black", strokeWidth: 3, strokeLinejoin: "round"}),
      ...dblArrow(c.arrowOn), ...dblArrow(c.arrowOff),
      Plot.text(c.texts, {x: "x", y: "y", text: "t", fontSize: 28, fill: "black", lineAnchor: "middle"}),
      Plot.text([c.letter], {frameAnchor: "top-left", dx: c.letterDx, dy: 19, textAnchor: "start", lineAnchor: "middle", fontSize: 30}),
      Plot.text(["Light intensity (mW/cm²)"], {frameAnchor: "left", y: 75.1, dx: -83, rotate: -90, textAnchor: "middle", lineAnchor: "middle", fontSize: 28}),
      Plot.text(["Time (s)"], {frameAnchor: "bottom", dy: 25, lineAnchor: "middle", fontSize: 28}),
      Plot.axisY(intensityTicks, {tickSize: 8, tickPadding: 5, strokeWidth: 3, fontSize: 27, fontWeight: "bold", label: null, tickFormat: d => String(d)}),
      Plot.axisY(intensityMinor, {tickSize: 4.5, strokeWidth: 2.5, label: null, tickFormat: () => ""}),
      Plot.frame({stroke: "black", strokeWidth: 3.5})
    ]
  });
}
const panelA = {color: "#ff0000", edges: edgesA, dotLow: true, dotHigh: true, dash: "22,6,9,6,4,6,400",
  bracket: {x1: 2.01, x2: 6.1, xm: 4.07, y: 109.4, yEnd: 103.7, yTop: 114.8},
  arrowOn: {x1: 2.02, x2: 3.99, y: 22.5}, arrowOff: {x1: 4.05, x2: 6.01, y: 68.6},
  texts: [{x: 4.07, y: 125.5, t: "One period"}, {x: 4.98, y: 146, t: "t_{on} = t_{off}"}, {x: 2.97, y: 34.5, t: "t_{on}"}, {x: 5.03, y: 81.5, t: "t_{off}"},
          {x: 1.95, y: -10, t: "on"}, {x: 3.9, y: -10, t: "off"}, {x: 0.49, y: 157, t: "(i)"}],
  letter: "(a)", letterDx: -157.5};
const panelB = {color: "#138f13", edges: edgesB, dotLow: true, dotHigh: false, dash: "13,6,5,6,5,6,5,6,400",
  bracket: {x1: 2.05, x2: 6.09, xm: 4.07, y: 107.7, yEnd: 101.5, yTop: 112.5},
  arrowOn: {x1: 2.03, x2: 4.0, y: 22.5}, arrowOff: {x1: 4.05, x2: 6.03, y: 68.6},
  texts: [{x: 4.07, y: 121.2, t: "One period"}, {x: 3.06, y: 148.9, t: "t_{on} = 2 s"}, {x: 7.24, y: 148.9, t: "changing t_{off}"},
          {x: 3.02, y: 33.5, t: "t_{on}"}, {x: 5.08, y: 80.6, t: "t_{off}"}, {x: 2.0, y: -10, t: "on"}, {x: 3.98, y: -10, t: "off"}, {x: 0.54, y: 157, t: "(ii)"}],
  letter: "(b)", letterDx: -148.8};
const panelC = {color: "#0c0c92", edges: edgesC, dotLow: false, dotHigh: true, dash: "13,6,5,6,5,6,5,6,400",
  bracket: {x1: 2.02, x2: 6.02, xm: 4.06, y: 107.7, yEnd: 101.8, yTop: 112.5},
  arrowOn: {x1: 2.03, x2: 3.98, y: 22.5}, arrowOff: {x1: 4.03, x2: 6.03, y: 68.6},
  texts: [{x: 3.92, y: 122, t: "One period"}, {x: 2.88, y: 148.9, t: "t_{off} = 2 s"}, {x: 7.14, y: 148.9, t: "changing t_{on}"},
          {x: 5.04, y: 81.5, t: "t_{off}"}, {x: 2.97, y: 33.2, t: "t_{on}"}, {x: 1.98, y: -10, t: "on"}, {x: 3.94, y: -10, t: "off"}, {x: 0.7, y: 157, t: "(iii)"}],
  letter: "(c)", letterDx: -146.4};
place(topPanel(panelA), 0, 0);
place(topPanel(panelB), 630.4, 0);
place(topPanel(panelC), 1260.4, 0);

// ---------- bottom panels ----------
const BOT = {width: 1971, mL: 162.2, mR: 89.3, mT: 20, mB: 60, frameH: 345, iDomain: [-30.06, 10.06], vDomain: [-1.466, 4.483], xDomain: [0, 100]};
function bottomPanel(p) {
  const common = {width: BOT.width, height: BOT.mT + BOT.frameH + BOT.mB, marginLeft: BOT.mL, marginRight: BOT.mR, marginTop: BOT.mT, marginBottom: BOT.mB,
    x: {domain: BOT.xDomain, axis: null}, style: baseStyle};
  const iPlot = Plot.plot({...common, y: {domain: BOT.iDomain}, marks: [
    Plot.ruleY([separatorLevel], {x1: 0, x2: 100, stroke: "#85859e", strokeWidth: 2.5, strokeDasharray: "2.5,4.5"}),
    ...p.iMarks,
    ...p.segLabels.map((t, i) => Plot.text([t], {x: segLabelX[i], frameAnchor: "top", dy: 18.5, lineAnchor: "middle", fill: segColors[i], fontSize: 28})),
    Plot.text([p.roman], {frameAnchor: "top-left", dx: p.romanDx, dy: p.romanDy, textAnchor: "start", lineAnchor: "middle", fontSize: 28}),
    Plot.text([p.letter], {frameAnchor: "top-left", dx: -157.7, dy: p.letterDy, textAnchor: "start", lineAnchor: "middle", fontSize: 30}),
    Plot.text(["Photocurrent (nA)"], {frameAnchor: "left", y: p.pcY, dx: -85, rotate: -90, textAnchor: "middle", lineAnchor: "middle", fontSize: 28}),
    Plot.text([p.note], {frameAnchor: "bottom-left", dx: p.noteDx, dy: p.noteDy, textAnchor: "start", lineAnchor: "middle", fontSize: 28}),
    Plot.text(["Time (s)"], {frameAnchor: "bottom", dy: p.timeDy, lineAnchor: "middle", fontSize: 28}),
    Plot.axisY(currentTicks, {tickSize: 8, tickPadding: 2, strokeWidth: 3, fontSize: 27, fontWeight: "bold", label: null, tickFormat: d => String(d)}),
    Plot.axisY(currentMinor, {tickSize: 4.5, strokeWidth: 2.5, label: null, tickFormat: () => ""}),
    Plot.frame({stroke: "black", strokeWidth: 3.5})
  ]});
  const vPlot = Plot.plot({...common, y: {domain: BOT.vDomain}, marks: [
    Plot.ruleY([0], {x1: 1.2, x2: 99.8, stroke: "#ff2bcf", strokeWidth: 3, strokeDasharray: "2.5,4.5"}),
    ...p.vMarks,
    Plot.axisY(voltageTicks, {anchor: "right", tickSize: 8, tickPadding: 2, strokeWidth: 3, fontSize: 27, fontWeight: "bold", label: null, tickFormat: d => String(d)}),
    Plot.axisY(voltageMinor, {anchor: "right", tickSize: 4.5, strokeWidth: 2.5, label: null, tickFormat: () => ""}),
    Plot.text(["Voltage (V)"], {frameAnchor: "right", y: 0.06, dx: 70, rotate: -90, textAnchor: "middle", lineAnchor: "middle", fontSize: 28})
  ]});
  place(iPlot, 0, p.top - BOT.mT);
  place(vPlot, 0, p.top - BOT.mT);
}

const C = COLORS;
bottomPanel({
  top: 437, letter: "(d)", letterDy: 15, roman: "(i)", romanDx: 12, romanDy: 32, segLabels: segLabelsD,
  note: "t_{on} = t_{off}", noteDx: 27.6, noteDy: -27, timeDy: 24, pcY: -0.8,
  iMarks: [
    L(dI_cyanPre, C.cyan), B(dI_cyanBand, C.cyan), L(dI_cyanPost, C.cyan),
    L(dI_greenPre, C.green), B(dI_greenBand, C.green), L(dI_greenPost, C.green),
    L(buildPulses(dI_orange), C.orange), L(buildPulses(dI_red), C.red), L(buildPulses(dI_pink), C.pink),
    L(dPinkArrowUp, "#ff5fa5", {strokeWidth: 3, strokeDasharray: "10,6", curve: "catmull-rom"}),
    L(dPinkArrowLow, "#ff5fa5", {strokeWidth: 3, strokeDasharray: "10,6", curve: "catmull-rom"}),
    spike(dPinkArrowHeads, 90, {fill: "#ff5fa5", stroke: "#ff5fa5", length: 18, r: 6}),
    Plot.text(dOnOffText, {x: "x", y: "y", text: "t", fontSize: 28, fill: "black", lineAnchor: "middle"})
  ],
  vMarks: [
    L(dV_cyanPre, C.cyan), B(dV_cyanBand, C.cyan), L(dV_cyanEnl, C.cyan),
    L(dV_greenPre, C.green), B(dV_greenBand, C.green), L(dV_greenEnl, C.green),
    L(dV_orangePre, C.orange), B(dV_orangeBand, C.orange), L(dV_orangeEnl, C.orange, {curve: "catmull-rom"}),
    L(dV_redPre, C.red), B(dV_redBand, C.red), L(dV_redEnl, C.red, {curve: "catmull-rom"}),
    L(dV_pinkPre.concat(teethPts(dV_pinkTeeth)), C.pink, {strokeWidth: 2.2}), L(dV_pinkEnl, C.pink, {curve: "catmull-rom"}),
    Plot.rect([enlargeBox], {x1: "x1", x2: "x2", y1: "y1", y2: "y2", fill: "none", stroke: "black", strokeWidth: 2.5, strokeDasharray: "7,5"}),
    Plot.line([[enlargeBracket.x1, enlargeBracket.yEnd], [enlargeBracket.x1, enlargeBracket.y], [enlargeBracket.xm, enlargeBracket.y], [enlargeBracket.xm, enlargeBracket.yTick], [enlargeBracket.xm, enlargeBracket.y], [enlargeBracket.x2, enlargeBracket.y], [enlargeBracket.x2, enlargeBracket.yEnd]],
      {x: d => d[0], y: d => d[1], stroke: "black", strokeWidth: 3, strokeLinejoin: "round"}),
    Plot.arrow([enlargeArrow], {x1: "x1", y1: "y1", x2: "x2", y2: "y2", bend: -50, stroke: "black", strokeWidth: 3, headLength: 14}),
    Plot.text([enlargeText], {x: "x", y: "y", text: "t", fontSize: 28, fill: "black", lineAnchor: "middle"})
  ]
});
bottomPanel({
  top: 865.5, letter: "(e)", letterDy: 15, roman: "(ii)", romanDx: 10, romanDy: 30.6, segLabels: segLabelsE,
  note: "t_{on} = 2 s  changing t_{off}", noteDx: 25.3, noteDy: -25, timeDy: 25, pcY: -0.4,
  iMarks: [
    L(eI_cyan, C.cyan), L(eI_green, C.green), L(eI_orange, C.orange), L(buildPulses(eI_red), C.red), L(buildPulses(eI_pink), C.pink)
  ],
  vMarks: [
    L(eV_cyanPre, C.cyan), B(eV_cyanBand, C.cyan), L(eV_cyanEnl, C.cyan),
    L(eV_greenPre, C.green), B(eV_greenBand, C.green), L(eV_greenEnl, C.green),
    L(eV_orangePre, C.orange), B(eV_orangeBand, C.orange), L(eV_orangeEnl, C.orange),
    L(eV_redPre, C.red), B(eV_redBand, C.red), L(eV_redEnl, C.red, {curve: "catmull-rom"}),
    L(eV_pinkPre.concat(teethPts(eV_pinkTeeth)), C.pink, {strokeWidth: 2.2}), L(eV_pinkEnl, C.pink, {curve: "catmull-rom"})
  ]
});
bottomPanel({
  top: 1295, letter: "(f)", letterDy: 20, roman: "(iii)", romanDx: 5, romanDy: 29.4, segLabels: segLabelsF,
  note: "t_{off} = 2 s  changing t_{on}", noteDx: 24, noteDy: -25, timeDy: 30, pcY: -0.4,
  iMarks: [
    L(buildPulses(fI_cyan), C.cyan), L(buildPulses(fI_green), C.green), L(buildPulses(fI_orange), C.orange),
    L(buildPulses(fI_red), C.red), L(buildPulses(fI_pink), C.pink)
  ],
  vMarks: [
    L(fV_cyanPre, C.cyan), B(fV_cyanBand, C.cyan), L(fV_cyanEnl, C.cyan),
    L(fV_greenPre, C.green), B(fV_greenBand, C.green), L(fV_greenEnl, C.green),
    L(fV_orangePre, C.orange), B(fV_orangeBand, C.orange), L(fV_orangeEnl, C.orange),
    L(fV_redPre, C.red), B(fV_redBand, C.red), L(fV_redEnl, C.red),
    L(fV_pinkPre.concat(teethPts(fV_pinkTeeth)), C.pink, {strokeWidth: 2.2}), L(fV_pinkEnl, C.pink, {curve: "catmull-rom"})
  ]
});
</script>
</body></html>
